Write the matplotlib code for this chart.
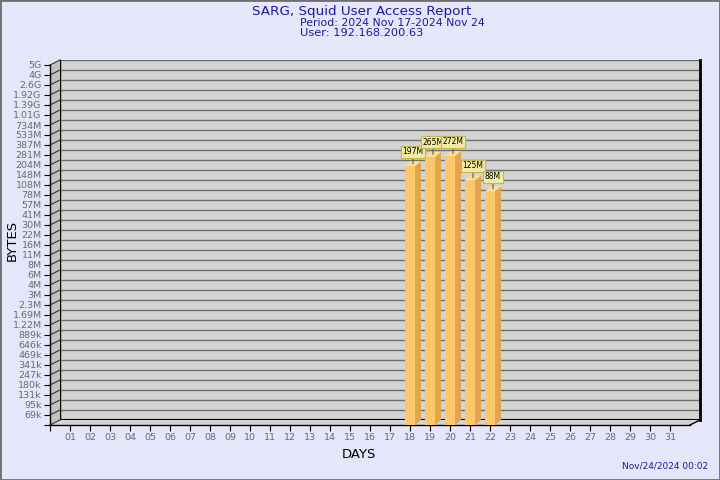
#Libraries for plotting
import matplotlib
matplotlib.use('Agg')
import matplotlib.pyplot as plt
from matplotlib.patches import Polygon, Rectangle
from matplotlib.lines import Line2D
from matplotlib.transforms import IdentityTransform, ScaledTranslation

#Texts of the report
titulo = 'SARG, Squid User Access Report'
periodo = 'Period: 2024 Nov 17-2024 Nov 24'
usuario = 'User: 192.168.200.63'
fecha = 'Nov/24/2024 00:02'

#Days on the x axis
dias = list(range(1, 32))
etiquetas_dias = ['%02d' % d for d in dias]

#Labels of the y axis (bytes, log steps)
etiquetas_bytes = ['69k', '95k', '131k', '180k', '247k', '341k', '469k', '646k', '889k',
                   '1.22M', '1.69M', '2.3M', '3M', '4M', '6M', '8M', '11M', '16M', '22M',
                   '30M', '41M', '57M', '78M', '108M', '148M', '204M', '281M', '387M',
                   '533M', '734M', '1.01G', '1.39G', '1.92G', '2.6G', '4G', '5G']

#Bytes used per day
dias_con_datos = [18, 19, 20, 21, 22]
bytes_usados = [197e6, 265e6, 272e6, 125e6, 88e6]
etiquetas_barras = ['197M', '265M', '272M', '125M', '88M']

#Colors
fondo = '#E6E6FA'
azul = '#1A1A9A'
gris_pared = '#D3D3D3'
gris_lado = '#C2C2C2'
gris_linea = '#6E6E6E'
color_frente = '#FFC76C'
color_lado = '#E2A54E'
color_arriba = '#FFE08E'

W, H = 720, 480


def a_valor(txt):
    #Converts a label like '1.22M' into bytes
    mult = {'k': 1e3, 'M': 1e6, 'G': 1e9}
    return float(txt[:-1]) * mult[txt[-1]]


#Evenly spaced log ticks between the first and last label
base = a_valor(etiquetas_bytes[0])
tope = a_valor(etiquetas_bytes[-1])
n = len(etiquetas_bytes) - 1
paso = (tope / base) ** (1.0 / n)
posiciones = [base * paso ** i for i in range(n + 1)]
y_min = base / paso
y_max = tope

fig = plt.figure(figsize=(W / 100, H / 100), dpi=100, facecolor=fondo)

#Back wall of the pseudo 3D chart
dx, dy = 10, 5
ax_fondo = fig.add_axes([60 / W, 60 / H, 640 / W, 360 / H])
ax_fondo.set_facecolor(gris_pared)
ax_fondo.set_yscale('log')
ax_fondo.set_ylim(y_min, y_max)
ax_fondo.set_xlim(0, 32)
ax_fondo.set_yticks(posiciones)
ax_fondo.minorticks_off()
ax_fondo.set_xticks([])
ax_fondo.yaxis.grid(True, color=gris_linea, linewidth=1)
ax_fondo.tick_params(left=False, labelleft=False)
ax_fondo.spines['top'].set_visible(False)
ax_fondo.spines['left'].set_color('black')
ax_fondo.spines['left'].set_linewidth(1)
ax_fondo.spines['right'].set_linewidth(2)
ax_fondo.spines['bottom'].set_linewidth(1.5)

#Front plane with the ticks and the bars
ax = fig.add_axes([50 / W, 55 / H, 640 / W, 360 / H], zorder=2)
ax.set_facecolor('none')
ax.set_yscale('log')
ax.set_ylim(y_min, y_max)
ax.set_xlim(0, 32)
ax.set_yticks([y_min] + posiciones)
ax.set_yticklabels([''] + etiquetas_bytes)
ax.minorticks_off()
ax.set_xticks([0] + dias)
ax.set_xticklabels([''] + etiquetas_dias)
ax.tick_params(labelsize=6.8, labelcolor='#6A6A6A', color='black', length=4, width=0.8, pad=2)
ax.spines['top'].set_visible(False)
ax.spines['right'].set_visible(False)
ax.spines['left'].set_linewidth(1)
ax.spines['bottom'].set_linewidth(1)

ident = IdentityTransform()

#Left side wall
x0, y0 = ax.transData.transform((0, y_min))
x1, y1 = ax.transData.transform((32, y_max))
ax.add_patch(Polygon([(x0, y0), (x0, y1), (x0 + dx, y1 + dy), (x0 + dx, y0 + dy)],
                     closed=True, facecolor=gris_lado, edgecolor='none',
                     transform=ident, clip_on=False, zorder=0.5))
#Floor
ax.add_patch(Polygon([(x0, y0), (x1, y0), (x1 + dx, y0 + dy), (x0 + dx, y0 + dy)],
                     closed=True, facecolor=gris_pared, edgecolor='none',
                     transform=ident, clip_on=False, zorder=0.5))
ax.add_line(Line2D([x1, x1 + dx], [y0, y0 + dy], color='black', linewidth=1,
                   transform=ident, clip_on=False, zorder=2.6))
#Diagonal lines from each tick to the back wall
for p in posiciones:
    fx, fy = ax.transData.transform((0, p))
    bx, by = ax_fondo.transData.transform((0, p))
    ax.add_line(Line2D([fx, bx], [fy, by], color='#333333', linewidth=0.8,
                       transform=ident, clip_on=False, zorder=0.6))
ax.add_line(Line2D([x0, x0 + dx], [y0, y0 + dy], color='#333333', linewidth=0.8,
                   transform=ident, clip_on=False, zorder=0.6))

#Bars: front face, side face and top face
alturas = [v - y_min for v in bytes_usados]
ax.bar(dias_con_datos, alturas, bottom=y_min, width=0.5, color=color_frente,
       linewidth=0, zorder=3)
bdx, bdy = 6, 5
for d, v, txt in zip(dias_con_datos, bytes_usados, etiquetas_barras):
    xl, yb = ax.transData.transform((d - 0.25, y_min))
    xr, yt = ax.transData.transform((d + 0.25, v))
    ax.add_patch(Polygon([(xr, yb), (xr, yt), (xr + bdx, yt + bdy), (xr + bdx, yb + bdy)],
                         closed=True, facecolor=color_lado, edgecolor='none',
                         transform=ident, clip_on=False, zorder=3))
    ax.add_patch(Polygon([(xl, yt), (xr, yt), (xr + bdx, yt + bdy), (xl + bdx, yt + bdy)],
                         closed=True, facecolor=color_arriba, edgecolor='none',
                         transform=ident, clip_on=False, zorder=3))
    #Value label over the bar
    punto = ax.transData + ScaledTranslation(bdx / 200, bdy / 200, fig.dpi_scale_trans)
    ax.annotate(txt, xy=(d, v), xycoords=punto, xytext=(0, 8.6), textcoords='offset points',
                ha='center', va='center', fontsize=5.5, color='black', zorder=5,
                bbox=dict(boxstyle='square,pad=0.2', facecolor='#F2ECA2', edgecolor='#C8B44E', linewidth=0.8),
                arrowprops=dict(arrowstyle='-', color='#555555', linewidth=0.8, shrinkA=0, shrinkB=0))

#Titles and labels
fig.text(362 / W, 1 - 11 / H, titulo, ha='center', va='center', fontsize=9.7, color=azul)
fig.text(300 / W, 1 - 23 / H, periodo, ha='left', va='center', fontsize=7.8, color=azul)
fig.text(300 / W, 1 - 33.5 / H, usuario, ha='left', va='center', fontsize=8.2, color=azul)
fig.text(12 / W, 1 - 240 / H, 'BYTES', ha='center', va='center', rotation=90, fontsize=9.5, color='black')
fig.text(359 / W, 1 - 455 / H, 'DAYS', ha='center', va='center', fontsize=9.5, color='black')
fig.text(708 / W, 1 - 466 / H, fecha, ha='right', va='center', fontsize=6.5, color=azul)

#Border around the picture
fig.add_artist(Rectangle((0, 0), 1, 1, transform=fig.transFigure, fill=False,
                         edgecolor='#707070', linewidth=2))

fig.savefig('out.png', dpi=100, facecolor=fondo)
